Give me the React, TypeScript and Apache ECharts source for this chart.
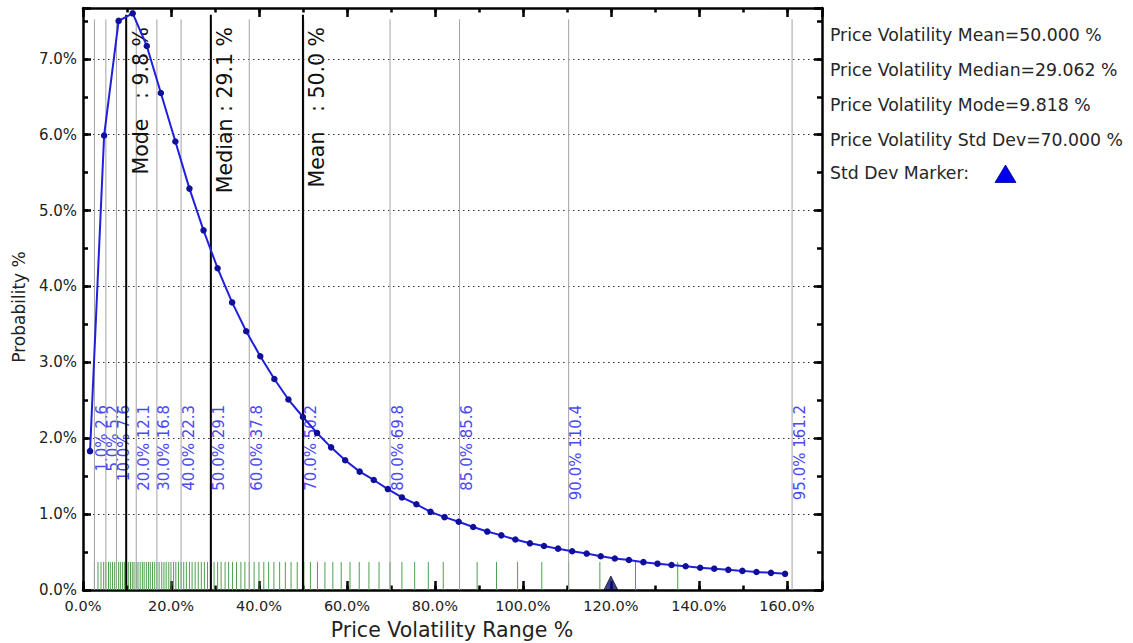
import React, { useEffect, useRef } from "react";
import * as echarts from "echarts";

// ---- data ----
const xValues = [
  1.6, 4.8, 8.1, 11.3, 14.5, 17.7, 21.0, 24.2, 27.4, 30.6,
  33.9, 37.1, 40.3, 43.5, 46.7, 50.0, 53.2, 56.4, 59.6, 62.9,
  66.1, 69.3, 72.5, 75.8, 79.0, 82.2, 85.4, 88.7, 91.9, 95.1,
  98.3, 101.6, 104.8, 108.0, 111.2, 114.5, 117.7, 120.9, 124.1, 127.4,
  130.6, 133.8, 137.0, 140.3, 143.5, 146.7, 149.9, 153.1, 156.4, 159.6,
];
const probValues = [
  1.83, 5.99, 7.5, 7.6, 7.17, 6.55, 5.91, 5.29, 4.74, 4.24,
  3.79, 3.41, 3.08, 2.78, 2.51, 2.28, 2.07, 1.88, 1.71, 1.56,
  1.45, 1.33, 1.22, 1.13, 1.03, 0.96, 0.9, 0.83, 0.77, 0.72,
  0.665, 0.615, 0.58, 0.545, 0.51, 0.48, 0.445, 0.415, 0.395, 0.367,
  0.347, 0.33, 0.313, 0.294, 0.281, 0.266, 0.252, 0.237, 0.226, 0.213,
];
const percentileLevels = [1, 5, 10, 20, 30, 40, 50, 60, 70, 80, 85, 90, 95];
const percentileValues = [2.6, 5.2, 7.6, 12.1, 16.8, 22.3, 29.1, 37.8, 50.2, 69.8, 85.6, 110.4, 161.2];
const rugValues = [
  2.6, 3.4, 4.1, 4.7, 5.2, 5.8, 6.2, 6.7, 7.2, 7.6,
  8.1, 8.5, 9.0, 9.4, 9.9, 10.3, 10.8, 11.2, 11.6, 12.1,
  12.5, 13.0, 13.5, 13.9, 14.4, 14.9, 15.3, 15.8, 16.3, 16.8,
  17.3, 17.9, 18.4, 18.9, 19.5, 20.0, 20.6, 21.1, 21.7, 22.3,
  22.9, 23.5, 24.2, 24.8, 25.5, 26.2, 26.9, 27.6, 28.3, 29.1,
  29.8, 30.6, 31.4, 32.3, 33.1, 34.0, 34.9, 35.9, 36.8, 37.8,
  38.9, 40.0, 41.1, 42.2, 43.4, 44.7, 46.0, 47.3, 48.7, 50.2,
  51.7, 53.3, 55.0, 56.8, 58.7, 60.7, 62.8, 65.0, 67.3, 69.8,
  72.5, 75.4, 78.5, 81.9, 85.6, 89.6, 94.0, 98.8, 104.3, 110.4,
  117.5, 125.6, 135.2,
];
const statNames = ["Mode", "Median", "Mean"];
const statValues = [9.818, 29.062, 50.0];
const stdDevMarkerX = [120];
const xTicks = [0, 20, 40, 60, 80, 100, 120, 140, 160];
const yTicks = [0, 1, 2, 3, 4, 5, 6, 7];
const legendLines = [
  "Price Volatility Mean=50.000 %",
  "Price Volatility Median=29.062 %",
  "Price Volatility Mode=9.818 %",
  "Price Volatility Std Dev=70.000 %",
  "Std Dev Marker:",
];

// ---- layout constants (axis values) ----
const X_MAX = 168;
const Y_MAX = 7.67;
const RUG_TOP = 0.37;
const PCT_LINE_TOP = 7.52;
const PCT_LABEL_Y = 2.44;
const STAT_LINE_TOP = 7.58;
const STAT_LABEL_Y = 7.42;

const FONT = '"DejaVu Sans", "Noto Sans", sans-serif';

const near = (arr: number[], v: number) => arr.some((t) => Math.abs(t - v) < 1e-6);

function makeXAxis(position: "top" | "bottom", interval: number, tickLen: number, showLine: boolean, showLabel: boolean) {
  return {
    type: "value",
    position,
    min: 0,
    max: X_MAX,
    interval,
    axisLine: { show: showLine, onZero: false, lineStyle: { color: "#000", width: 2.5 } },
    axisTick: { show: true, inside: true, length: tickLen, lineStyle: { color: "#000", width: 2.5 } },
    axisLabel: {
      show: showLabel,
      margin: 8,
      fontSize: 14.5,
      color: "#222",
      fontFamily: FONT,
      formatter: (v: number) => (near(xTicks, v) ? v.toFixed(1) + "%" : ""),
    },
    splitLine: { show: false },
  };
}

function makeYAxis(position: "left" | "right", interval: number, tickLen: number, showLine: boolean, showLabel: boolean, grid: boolean) {
  return {
    type: "value",
    position,
    min: 0,
    max: Y_MAX,
    interval,
    axisLine: { show: showLine, onZero: false, lineStyle: { color: "#000", width: 2.5 } },
    axisTick: { show: true, inside: true, length: tickLen, lineStyle: { color: "#000", width: 2.5 } },
    axisLabel: {
      show: showLabel,
      margin: 6,
      fontSize: 15,
      color: "#222",
      fontFamily: FONT,
      formatter: (v: number) => (near(yTicks, v) ? v.toFixed(1) + "%" : ""),
    },
    splitLine: {
      show: grid,
      lineStyle: { color: "#333", width: 1, type: [1.5, 3.5] },
    },
  };
}

export default function App() {
  const ref = useRef<HTMLDivElement>(null);

  useEffect(() => {
    if (!ref.current) return;
    const chart = echarts.init(ref.current, null, { renderer: "svg" });

    const option: any = {
      animation: false,
      backgroundColor: "#fff",
      textStyle: { fontFamily: FONT },
      grid: { left: 83, top: 8, width: 739, height: 582, containLabel: false, outerBoundsMode: "none" },
      xAxis: [
        makeXAxis("bottom", 10, 4.5, true, true),
        makeXAxis("bottom", 20, 9, false, false),
        makeXAxis("top", 10, 4.5, true, false),
        makeXAxis("top", 20, 9, false, false),
      ],
      yAxis: [
        makeYAxis("left", 1, 8, true, true, true),
        makeYAxis("left", 0.5, 5, false, false, false),
        makeYAxis("right", 1, 8, true, false, false),
        makeYAxis("right", 0.5, 5, false, false, false),
      ],
      series: [
        {
          type: "custom",
          name: "rug",
          silent: true,
          z: 2,
          data: rugValues.map((v) => [v, 0]),
          encode: { x: 0, y: 1 },
          renderItem: (_p: any, api: any) => {
            const v = api.value(0);
            const a = api.coord([v, 0]);
            const b = api.coord([v, RUG_TOP]);
            return {
              type: "line",
              shape: { x1: a[0], y1: a[1], x2: b[0], y2: b[1] },
              style: { stroke: "#4f9f4f", lineWidth: 1 },
            };
          },
        },
        {
          type: "custom",
          name: "percentiles",
          silent: true,
          z: 3,
          data: percentileValues.map((v, i) => [v, 0, percentileLevels[i]]),
          encode: { x: 0, y: 1 },
          renderItem: (_p: any, api: any) => {
            const v = api.value(0);
            const lvl = api.value(2);
            const a = api.coord([v, 0]);
            const b = api.coord([v, PCT_LINE_TOP]);
            const l = api.coord([v, PCT_LABEL_Y]);
            return {
              type: "group",
              children: [
                {
                  type: "line",
                  shape: { x1: a[0], y1: a[1], x2: b[0], y2: b[1] },
                  style: { stroke: "#a3a3a3", lineWidth: 1 },
                },
                {
                  type: "text",
                  x: l[0],
                  y: l[1],
                  rotation: Math.PI / 2,
                  style: {
                    text: `${Number(lvl).toFixed(1)}% ${Number(v).toFixed(1)}`,
                    fill: "#4a4af2",
                    fontSize: 15,
                    fontFamily: FONT,
                    align: "right",
                    verticalAlign: "top",
                  },
                },
              ],
            };
          },
        },
        {
          type: "custom",
          name: "stats",
          silent: true,
          z: 4,
          data: statValues.map((v) => [v, 0]),
          encode: { x: 0, y: 1 },
          renderItem: (p: any, api: any) => {
            const v = api.value(0);
            const a = api.coord([v, 0]);
            const b = api.coord([v, STAT_LINE_TOP]);
            const l = api.coord([v, STAT_LABEL_Y]);
            const name = statNames[p.dataIndex];
            return {
              type: "group",
              children: [
                {
                  type: "line",
                  shape: { x1: a[0], y1: a[1], x2: b[0], y2: b[1] },
                  style: { stroke: "#000", lineWidth: 2 },
                },
                {
                  type: "text",
                  x: l[0] + 4,
                  y: l[1],
                  rotation: Math.PI / 2,
                  style: {
                    text: `${name.padEnd(7, "\u00a0")}: ${Number(v).toFixed(1)} %`,
                    fill: "#111",
                    fontSize: 20.5,
                    fontFamily: FONT,
                    align: "right",
                    verticalAlign: "top",
                  },
                },
              ],
            };
          },
        },
        {
          type: "line",
          name: "Probability",
          z: 6,
          data: xValues.map((x, i) => [x, probValues[i]]),
          symbol: "circle",
          symbolSize: 6.5,
          showAllSymbol: true,
          lineStyle: { color: "#2020dc", width: 2 },
          itemStyle: { color: "#0f0f9c" },
          silent: true,
        },
        {
          type: "scatter",
          name: "Std Dev Marker",
          z: 7,
          clip: false,
          data: stdDevMarkerX.map((x) => [x, 0]),
          symbol: "triangle",
          symbolSize: [14, 14],
          symbolOffset: [0, -7],
          itemStyle: { color: "#0e0e78", borderColor: "#000", borderWidth: 0.8 },
          silent: true,
        },
      ],
      graphic: [
        ...legendLines.map((t, i) => ({
          type: "text",
          x: 830,
          y: [35, 70, 105, 140, 173][i],
          style: {
            text: t,
            fill: "#262626",
            fontSize: 17.3,
            fontFamily: FONT,
            align: "left",
            verticalAlign: "middle",
          },
        })),
        {
          type: "polygon",
          shape: { points: [[995, 182.5], [1016, 182.5], [1005.5, 165]] },
          style: { fill: "#0000f0", stroke: "#00008a", lineWidth: 0.8 },
        },
        {
          type: "text",
          x: 452,
          y: 630,
          style: {
            text: "Price Volatility Range %",
            fill: "#222",
            fontSize: 20.5,
            fontFamily: FONT,
            align: "center",
            verticalAlign: "middle",
          },
        },
        {
          type: "text",
          x: 19,
          y: 307,
          rotation: Math.PI / 2,
          style: {
            text: "Probability %",
            fill: "#222",
            fontSize: 17,
            fontFamily: FONT,
            align: "center",
            verticalAlign: "middle",
          },
        },
      ],
    };

    chart.setOption(option);
    return () => chart.dispose();
  }, []);

  return (
    <div
      ref={ref}
      style={{ position: "fixed", left: 0, top: 0, width: 1133, height: 643, background: "#fff" }}
    />
  );
}
